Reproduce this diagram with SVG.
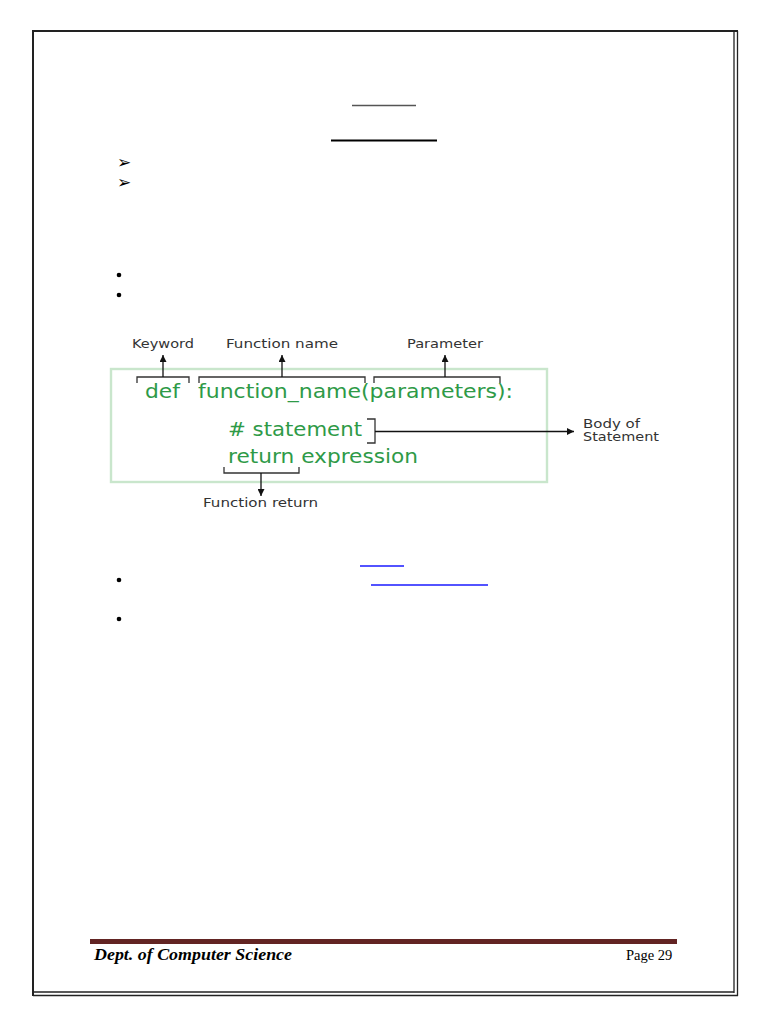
<svg xmlns="http://www.w3.org/2000/svg" width="768" height="1024" viewBox="0 0 768 1024">
<style>
.code{font-family:"DejaVu Sans",sans-serif;font-size:20px;fill:#2e9a47}
.lbl{font-family:"DejaVu Sans",sans-serif;font-size:12px;fill:#333}
.br{fill:none;stroke:#333;stroke-width:1.3}
.ar{fill:none;stroke:#111;stroke-width:1.3}
.pg{stroke:#222;fill:none}
.tri{font-family:"DejaVu Sans",sans-serif;font-size:17px;fill:#000}
</style>
<defs>
<marker id="ah" viewBox="0 0 10 10" refX="10" refY="5" markerWidth="7" markerHeight="7" markerUnits="userSpaceOnUse" orient="auto">
<path d="M0,0 L10,5 L0,10 Z" fill="#111"/>
</marker>
</defs>
<rect width="768" height="1024" fill="#fff"/>
<g id="page-border">
<line class="pg" x1="32" y1="31" x2="738" y2="31" stroke-width="2"/>
<line class="pg" x1="33" y1="30" x2="33" y2="996" stroke-width="2"/>
<line class="pg" x1="734" y1="31" x2="734" y2="993" stroke-width="1.3" stroke="#444"/>
<line class="pg" x1="737.5" y1="31" x2="737.5" y2="996" stroke-width="1.3" stroke="#444"/>
<line class="pg" x1="33" y1="992" x2="734" y2="992" stroke-width="1.3" stroke="#444"/>
<line class="pg" x1="33" y1="995.5" x2="738" y2="995.5" stroke-width="1.3" stroke="#444"/>
</g>
<g id="header">
<line x1="352" y1="105.5" x2="416" y2="105.5" stroke="#555" stroke-width="1.3"/>
<line x1="331" y1="140.5" x2="437" y2="140.5" stroke="#000" stroke-width="2"/>
<text class="tri" x="117" y="168">➢</text>
<text class="tri" x="117" y="188">➢</text>
<circle cx="119" cy="275" r="2.3" fill="#000"/>
<circle cx="119" cy="295" r="2.3" fill="#000"/>
</g>
<g id="code-box">
<rect x="111" y="369" width="436" height="113" fill="none" stroke="#c9e6cc" stroke-width="2.4"/>
</g>
<g id="def">
<text class="code" x="145" y="398" textLength="35" lengthAdjust="spacingAndGlyphs">def</text>
</g>
<g id="function-name">
<text class="code" x="198" y="398" textLength="315" lengthAdjust="spacingAndGlyphs">function_name(parameters):</text>
</g>
<g id="statement">
<text class="code" x="228" y="436" textLength="134" lengthAdjust="spacingAndGlyphs"># statement</text>
</g>
<g id="return-expression">
<text class="code" x="228" y="463" textLength="190" lengthAdjust="spacingAndGlyphs">return expression</text>
</g>
<g id="keyword-label">
<text class="lbl" x="132" y="348" textLength="62" lengthAdjust="spacingAndGlyphs">Keyword</text>
</g>
<g id="function-name-label">
<text class="lbl" x="226" y="348" textLength="112" lengthAdjust="spacingAndGlyphs">Function name</text>
</g>
<g id="parameter-label">
<text class="lbl" x="407" y="348" textLength="76" lengthAdjust="spacingAndGlyphs">Parameter</text>
</g>
<g id="function-return-label">
<text class="lbl" x="203" y="507" textLength="115" lengthAdjust="spacingAndGlyphs">Function return</text>
</g>
<g id="body-label">
<text class="lbl" x="583" y="428" textLength="57" lengthAdjust="spacingAndGlyphs">Body of</text>
<text class="lbl" x="583" y="441" textLength="76" lengthAdjust="spacingAndGlyphs">Statement</text>
</g>
<g id="connectors">
<path class="br" d="M137,383 V377 H189 V383"/>
<line class="ar" x1="163" y1="377" x2="163" y2="355" marker-end="url(#ah)"/>
<path class="br" d="M199,383 V377 H365 V383"/>
<line class="ar" x1="282" y1="377" x2="282" y2="355" marker-end="url(#ah)"/>
<path class="br" d="M374,383 V377 H500 V383"/>
<line class="ar" x1="445" y1="377" x2="445" y2="355" marker-end="url(#ah)"/>
<path class="br" d="M367,419 H375 V443 H367"/>
<line class="ar" x1="375" y1="431.5" x2="574" y2="431.5" marker-end="url(#ah)"/>
<path class="br" d="M224,467 V473 H299 V467"/>
<line class="ar" x1="261" y1="473" x2="261" y2="496" marker-end="url(#ah)"/>
</g>
<g id="lower">
<line x1="360" y1="566" x2="404" y2="566" stroke="#1a1aff" stroke-width="1.3"/>
<line x1="371" y1="585" x2="488" y2="585" stroke="#1a1aff" stroke-width="1.3"/>
<circle cx="119" cy="580" r="2.3" fill="#000"/>
<circle cx="119" cy="619" r="2.3" fill="#000"/>
</g>
<g id="footer">
<rect x="90" y="939" width="587" height="5" fill="#622423"/>
<text x="94" y="960" font-family="Liberation Serif,serif" font-style="italic" font-weight="bold" font-size="16" fill="#000" textLength="198" lengthAdjust="spacingAndGlyphs">Dept. of Computer Science</text>
<text x="626" y="960" font-family="Liberation Serif,serif" font-size="14.5" fill="#000">Page 29</text>
</g>
</svg>
